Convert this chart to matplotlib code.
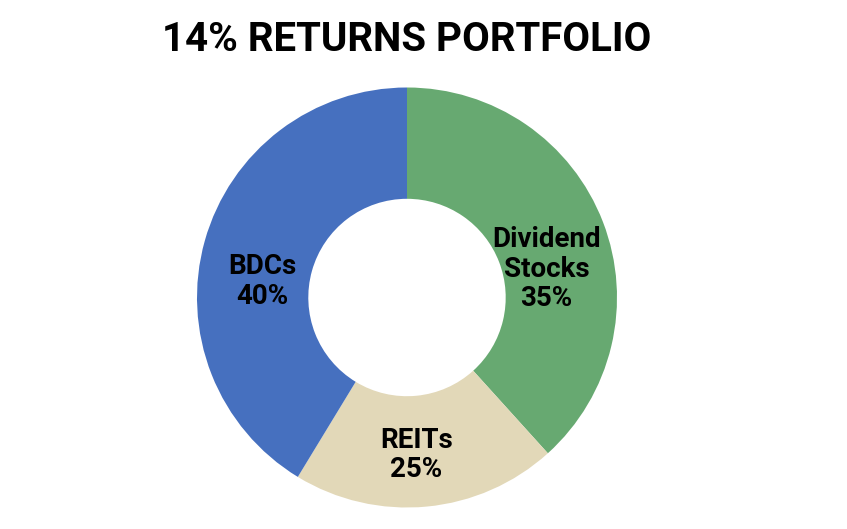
import matplotlib
matplotlib.use("Agg")
import matplotlib.pyplot as plt

# portfolio allocation
labels = ["Dividend\nStocks", "REITs", "BDCs"]
shares = [35, 25, 40]                    # numbers printed on the chart
wedge_sizes = [38.3, 20.4, 41.3]         # slice sizes as drawn in the picture
colors = ["#67A971", "#E2D8B8", "#4670BF"]
# label spots (fraction of outer radius)
label_pos = [(0.665, 0.135), (0.045, -0.75), (-0.69, 0.075)]

plt.rcParams['font.family'] = ['Roboto', 'DejaVu Sans']

fig = plt.figure(figsize=(8.47, 5.29), dpi=100)
ax = fig.add_axes([(407 - 210) / 847, 21.5 / 529, 420 / 847, 420 / 529])

ax.pie(wedge_sizes, colors=colors, startangle=90, counterclock=False,
       radius=1.0, wedgeprops=dict(width=0.53, linewidth=0))

for lab, val, (x, y) in zip(labels, shares, label_pos):
  ax.text(x, y, f"{lab}\n{val}%", ha='center', va='center',
          fontsize=20, fontweight='bold', linespacing=1.12, color='black')

ax.set_xlim(-1, 1)
ax.set_ylim(-1, 1)
ax.set_aspect('equal')
ax.axis('off')

fig.text(407 / 847, 1 - 40 / 529, "14% RETURNS PORTFOLIO", ha='center', va='center',
         fontsize=29, fontweight='bold', color='black')

fig.savefig('out.png', dpi=100)
